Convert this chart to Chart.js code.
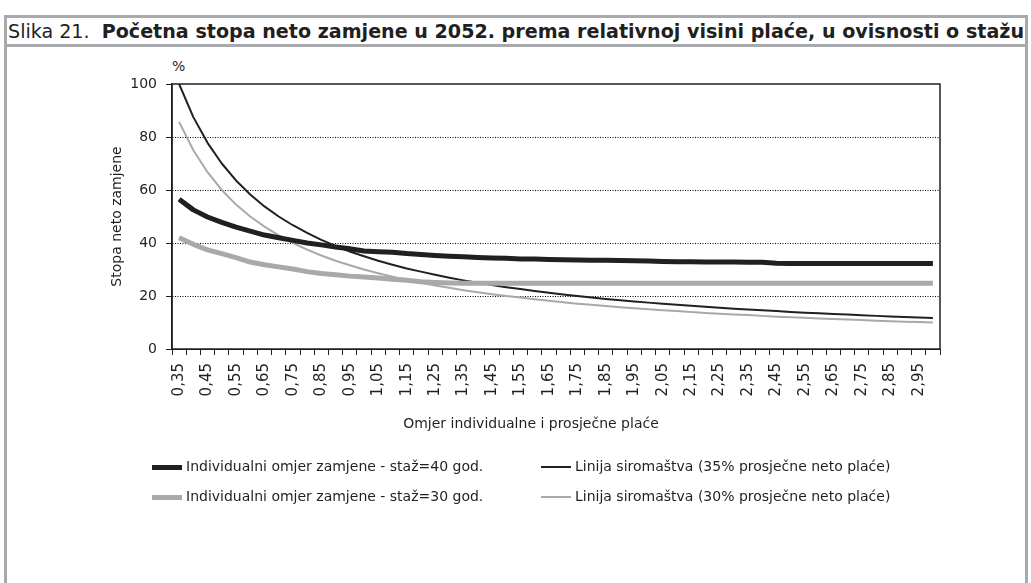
<!DOCTYPE html>
<html>
<head>
<meta charset="utf-8">
<script src="https://cdn.jsdelivr.net/npm/chart.js@4.4.0/dist/chart.umd.min.js"></script>
<style>
  html, body { margin: 0; padding: 0; background: #fff; }
  body { width: 1031px; height: 583px; position: relative; overflow: hidden; font-family: "DejaVu Sans", sans-serif; color: #231f20; }
  #frame { position: absolute; left: 4px; top: 15px; width: 1024px; height: 600px; border: 3px solid #a7a9ac; box-sizing: border-box; }
  #titleRule { position: absolute; left: 4px; top: 44px; width: 1024px; height: 3px; background: #a7a9ac; }
  #title { position: absolute; left: 8px; top: 19px; white-space: nowrap; font-family: "DejaVu Sans Condensed", "DejaVu Sans", sans-serif; font-size: 20px; transform-origin: 0 0; }
  #title b { font-weight: bold; }
  #pct { position: absolute; left: 172px; top: 58px; font-size: 14px; }
  #xTitle { position: absolute; left: 531px; top: 415px; transform: translateX(-50%); white-space: nowrap; font-size: 14px; }
  canvas { position: absolute; left: 0; top: 0; }
  #legend { position: absolute; left: 0; top: 0; font-size: 14px; }
  .item { position: absolute; white-space: nowrap; height: 20px; line-height: 20px; }
  .swatch { display: inline-block; width: 30px; vertical-align: middle; margin-right: 4px; }
</style>
</head>
<body>
<div id="frame"></div>
<div id="titleRule"></div>
<div id="title">Slika 21.&nbsp; <b>Početna stopa neto zamjene u 2052. prema relativnoj visini plaće, u ovisnosti o stažu</b></div>
<div id="pct">%</div>
<canvas id="chart" width="1031" height="583"></canvas>
<div id="xTitle">Omjer individualne i prosječne plaće</div>
<div id="legend"></div>
<script>
// omjer individualne i prosjecne place (0,35 - 3,00)
const categories = ['0,35','0,40','0,45','0,50','0,55','0,60','0,65','0,70','0,75','0,80',
  '0,85','0,90','0,95','1,00','1,05','1,10','1,15','1,20','1,25','1,30',
  '1,35','1,40','1,45','1,50','1,55','1,60','1,65','1,70','1,75','1,80',
  '1,85','1,90','1,95','2,00','2,05','2,10','2,15','2,20','2,25','2,30',
  '2,35','2,40','2,45','2,50','2,55','2,60','2,65','2,70','2,75','2,80',
  '2,85','2,90','2,95','3,00'];

// Individualni omjer zamjene - staz=40 god.
const staz40 = [56.5, 52.5, 49.8, 47.8, 46.0, 44.5, 43.0, 42.0, 41.0, 40.0,
  39.3, 38.5, 37.8, 37.0, 36.7, 36.5, 36.0, 35.7, 35.3, 35.0,
  34.8, 34.5, 34.3, 34.2, 34.0, 34.0, 33.8, 33.7, 33.6, 33.5,
  33.5, 33.4, 33.3, 33.2, 33.0, 32.9, 32.9, 32.8, 32.8, 32.8,
  32.7, 32.7, 32.4, 32.3, 32.3, 32.3, 32.3, 32.3, 32.3, 32.3,
  32.3, 32.3, 32.3, 32.3];

// Individualni omjer zamjene - staz=30 god.
const staz30 = [42.0, 39.5, 37.4, 36.0, 34.5, 32.8, 31.8, 31.0, 30.2, 29.2,
  28.5, 28.0, 27.5, 27.2, 26.8, 26.3, 25.9, 25.4, 25.1, 24.9,
  24.8, 24.8, 24.8, 24.8, 24.8, 24.8, 24.8, 24.8, 24.8, 24.8,
  24.8, 24.8, 24.8, 24.8, 24.8, 24.8, 24.8, 24.8, 24.8, 24.8,
  24.8, 24.8, 24.8, 24.8, 24.8, 24.8, 24.8, 24.8, 24.8, 24.8,
  24.8, 24.8, 24.8, 24.8];

// Linija siromastva (35% prosjecne neto place)
const siromastvo35 = [100.0, 87.5, 77.8, 70.0, 63.6, 58.3, 53.8, 50.0, 46.7, 43.8,
  41.2, 38.9, 36.8, 35.0, 33.3, 31.8, 30.4, 29.2, 28.0, 26.9,
  25.9, 25.0, 24.1, 23.3, 22.6, 21.9, 21.2, 20.6, 20.0, 19.4,
  18.9, 18.4, 17.9, 17.5, 17.1, 16.7, 16.3, 15.9, 15.6, 15.2,
  14.9, 14.6, 14.3, 14.0, 13.7, 13.5, 13.2, 13.0, 12.7, 12.5,
  12.3, 12.1, 11.9, 11.7];

// Linija siromastva (30% prosjecne neto place)
const siromastvo30 = [85.7, 75.0, 66.7, 60.0, 54.5, 50.0, 46.2, 42.9, 40.0, 37.5,
  35.3, 33.3, 31.6, 30.0, 28.6, 27.3, 26.1, 25.0, 24.0, 23.1,
  22.2, 21.4, 20.7, 20.0, 19.4, 18.8, 18.2, 17.6, 17.1, 16.7,
  16.2, 15.8, 15.4, 15.0, 14.6, 14.3, 14.0, 13.6, 13.3, 13.0,
  12.8, 12.5, 12.2, 12.0, 11.8, 11.5, 11.3, 11.1, 10.9, 10.7,
  10.5, 10.3, 10.2, 10.0];

const yTicks = [0, 20, 40, 60, 80, 100];

const BLACK = '#231f20';
const GREY = '#a7a9ac';

// fit title to the width of the frame
const title = document.getElementById('title');
title.style.transform = 'scaleX(' + (1016 / title.scrollWidth) + ')';

// solid frame round the plot area
const framePlugin = {
  id: 'plotFrame',
  beforeDatasetsDraw(chart) {
    const { ctx, chartArea: a } = chart;
    ctx.save();
    ctx.strokeStyle = BLACK;
    ctx.lineWidth = 1.5;
    ctx.strokeRect(a.left, a.top, a.right - a.left, a.bottom - a.top);
    ctx.restore();
  }
};

const datasets = [
  { label: 'Individualni omjer zamjene - staž=40 god.', data: staz40, borderColor: BLACK, borderWidth: 5 },
  { label: 'Individualni omjer zamjene - staž=30 god.', data: staz30, borderColor: GREY, borderWidth: 5 },
  { label: 'Linija siromaštva (35% prosječne neto plaće)', data: siromastvo35, borderColor: BLACK, borderWidth: 2 },
  { label: 'Linija siromaštva (30% prosječne neto plaće)', data: siromastvo30, borderColor: GREY, borderWidth: 2 }
].map(d => Object.assign(d, { pointRadius: 0, tension: 0, fill: false, borderJoinStyle: 'round' }));

const chart = new Chart(document.getElementById('chart'), {
  type: 'line',
  data: { labels: categories, datasets: datasets },
  options: {
    responsive: false,
    animation: false,
    devicePixelRatio: 1,
    layout: { padding: { top: 84, left: 100, right: 91, bottom: 141 } },
    plugins: { legend: { display: false }, tooltip: { enabled: false } },
    scales: {
      x: {
        offset: true,
        grid: { offset: true, drawOnChartArea: false, tickLength: 6, color: BLACK, tickColor: BLACK },
        border: { color: BLACK, width: 1 },
        ticks: {
          autoSkip: false, minRotation: 90, maxRotation: 90, padding: 8,
          color: BLACK, font: { family: 'DejaVu Sans', size: 15 },
          callback: function (val, i) { return i % 2 === 0 ? this.getLabelForValue(val) : ''; }
        },
        afterFit(scale) { scale.height = 93; }
      },
      y: {
        min: 0, max: 100,
        afterBuildTicks(scale) { scale.ticks = yTicks.map(v => ({ value: v })); },
        grid: {
          color: ctx => (ctx.tick && (ctx.tick.value === 0 || ctx.tick.value === 100)) ? 'rgba(0,0,0,0)' : '#000',
          tickColor: BLACK, tickLength: 6, lineWidth: 1
        },
        border: { color: BLACK, width: 1.5, dash: [1, 1.5] },
        ticks: { padding: 9, color: BLACK, font: { family: 'DejaVu Sans', size: 14 } },
        title: { display: true, text: 'Stopa neto zamjene', color: BLACK,
          font: { family: 'DejaVu Sans', size: 14 }, padding: { top: 9, bottom: 0 } },
        afterFit(scale) { scale.width = 72; }
      }
    }
  },
  plugins: [framePlugin]
});

// legend in two columns, built from the datasets
const legend = document.getElementById('legend');
const spots = [[152, 456], [152, 486], [541, 456], [541, 486]];
chart.data.datasets.forEach((ds, i) => {
  const item = document.createElement('div');
  item.className = 'item';
  item.style.left = spots[i][0] + 'px';
  item.style.top = spots[i][1] + 'px';
  const sw = document.createElement('span');
  sw.className = 'swatch';
  sw.style.height = ds.borderWidth + 'px';
  sw.style.background = ds.borderColor;
  item.appendChild(sw);
  item.appendChild(document.createTextNode(ds.label));
  legend.appendChild(item);
});
</script>
</body>
</html>
